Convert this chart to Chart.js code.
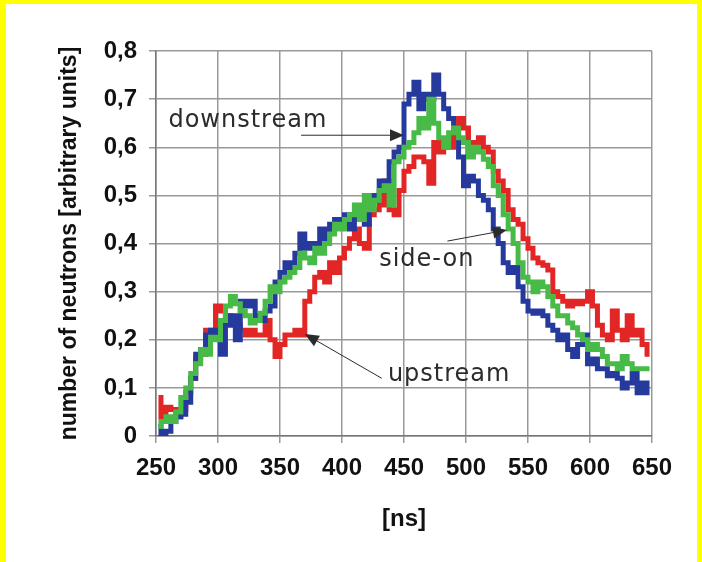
<!DOCTYPE html>
<html>
<head>
<meta charset="utf-8">
<script src="https://cdn.jsdelivr.net/npm/chart.js@4.4.1/dist/chart.umd.min.js"></script>
<style>
  html, body { margin: 0; padding: 0; }
  body { width: 702px; height: 562px; background: #ffff00; position: relative; overflow: hidden; }
  #sheet { position: absolute; left: 6px; top: 4px; right: 5px; bottom: 0; background: #fff; }
  #chart { position: absolute; left: 0; top: 0; }
</style>
</head>
<body>
<div id="sheet"></div>
<canvas id="chart" width="702" height="562"></canvas>
<script>
// time axis [ns], one sample every 4 ns
const times = [
  252, 256, 260, 264, 268, 272, 276, 280, 284, 288, 292, 296, 300, 304, 308, 312, 316, 320, 324, 328,
  332, 336, 340, 344, 348, 352, 356, 360, 364, 368, 372, 376, 380, 384, 388, 392, 396, 400, 404, 408,
  412, 416, 420, 424, 428, 432, 436, 440, 444, 448, 452, 456, 460, 464, 468, 472, 476, 480, 484, 488,
  492, 496, 500, 504, 508, 512, 516, 520, 524, 528, 532, 536, 540, 544, 548, 552, 556, 560, 564, 568,
  572, 576, 580, 584, 588, 592, 596, 600, 604, 608, 612, 616, 620, 624, 628, 632, 636, 640, 644, 648
];

const downstream = [
  0.02, 0.005, 0.01, 0.03, 0.04, 0.045, 0.07, 0.12, 0.17, 0.18, 0.21, 0.22, 0.21, 0.17, 0.23, 0.25, 0.20, 0.28, 0.27, 0.28,
  0.25, 0.24, 0.26, 0.27, 0.32, 0.34, 0.36, 0.35, 0.38, 0.42, 0.39, 0.40, 0.39, 0.43, 0.41, 0.44, 0.45, 0.44, 0.46, 0.43,
  0.45, 0.46, 0.44, 0.50, 0.49, 0.53, 0.52, 0.57, 0.59, 0.60, 0.69, 0.71, 0.735, 0.68, 0.71, 0.70, 0.75, 0.71, 0.68, 0.66,
  0.64, 0.58, 0.52, 0.54, 0.53, 0.50, 0.49, 0.47, 0.43, 0.40, 0.36, 0.34, 0.35, 0.31, 0.28, 0.26, 0.255, 0.26, 0.25, 0.23,
  0.22, 0.20, 0.21, 0.18, 0.165, 0.19, 0.21, 0.15, 0.16, 0.14, 0.14, 0.125, 0.13, 0.12, 0.10, 0.11, 0.13, 0.09, 0.11, 0.09
];

const sideOn = [
  0.02, 0.03, 0.04, 0.03, 0.05, 0.08, 0.10, 0.13, 0.15, 0.18, 0.17, 0.205, 0.20, 0.24, 0.27, 0.29, 0.275, 0.26, 0.25, 0.235,
  0.24, 0.255, 0.28, 0.31, 0.30, 0.32, 0.33, 0.34, 0.35, 0.38, 0.37, 0.36, 0.39, 0.38, 0.40, 0.42, 0.44, 0.43, 0.45, 0.46,
  0.48, 0.45, 0.50, 0.47, 0.49, 0.51, 0.52, 0.48, 0.57, 0.58, 0.60, 0.61, 0.63, 0.66, 0.64, 0.70, 0.65, 0.62, 0.60, 0.63,
  0.64, 0.62, 0.61, 0.58, 0.60, 0.59, 0.575, 0.56, 0.52, 0.50, 0.46, 0.43, 0.40, 0.36, 0.33, 0.32, 0.30, 0.32, 0.31, 0.29,
  0.27, 0.25, 0.25, 0.235, 0.225, 0.21, 0.20, 0.18, 0.19, 0.18, 0.165, 0.15, 0.15, 0.14, 0.165, 0.15, 0.14, 0.14, 0.14, 0.14
];

const upstream = [
  0.08, 0.04, 0.06, 0.055, 0.04, 0.055, 0.09, 0.12, 0.16, 0.17, 0.22, 0.21, 0.27, 0.26, 0.25, 0.24, 0.23, 0.22, 0.21, 0.22,
  0.21, 0.21, 0.24, 0.20, 0.165, 0.19, 0.21, 0.21, 0.22, 0.21, 0.28, 0.30, 0.33, 0.34, 0.32, 0.36, 0.34, 0.37, 0.39, 0.41,
  0.43, 0.40, 0.39, 0.46, 0.47, 0.48, 0.53, 0.47, 0.46, 0.51, 0.55, 0.56, 0.58, 0.58, 0.57, 0.525, 0.61, 0.59, 0.61, 0.60,
  0.63, 0.66, 0.64, 0.59, 0.61, 0.62, 0.60, 0.59, 0.55, 0.53, 0.51, 0.47, 0.45, 0.44, 0.41, 0.39, 0.37, 0.36, 0.355, 0.345,
  0.30, 0.29, 0.28, 0.27, 0.28, 0.275, 0.28, 0.30, 0.27, 0.23, 0.21, 0.20, 0.26, 0.22, 0.20, 0.25, 0.21, 0.22, 0.19, 0.17
];

const xTicks = [250, 300, 350, 400, 450, 500, 550, 600, 650];
const yTickLabels = ['0', '0,1', '0,2', '0,3', '0,4', '0,5', '0,6', '0,7', '0,8'];

// text labels with arrows, placed in data units (ns, value)
const callouts = [
  { text: 'downstream', at: [260, 0.655], from: [367, 0.625], to: [450, 0.625] },
  { text: 'side-on',    at: [430, 0.366], from: [485, 0.405], to: [533, 0.428] },
  { text: 'upstream',   at: [437, 0.127], from: [432, 0.12],  to: [370, 0.212] }
];

const toPoints = (vals) => vals.map((v, i) => ({ x: times[i], y: v }));

const calloutPlugin = {
  id: 'callouts',
  afterDatasetsDraw(chart) {
    const { ctx, scales: { x, y } } = chart;
    ctx.save();
    ctx.fillStyle = '#2b2b2b';
    ctx.strokeStyle = '#2b2b2b';
    ctx.font = '24px "DejaVu Sans"';
    ctx.letterSpacing = '1px';
    ctx.textBaseline = 'middle';
    ctx.textAlign = 'left';
    callouts.forEach(c => {
      ctx.fillText(c.text, x.getPixelForValue(c.at[0]), y.getPixelForValue(c.at[1]));
      const x0 = x.getPixelForValue(c.from[0]), y0 = y.getPixelForValue(c.from[1]);
      const x1 = x.getPixelForValue(c.to[0]), y1 = y.getPixelForValue(c.to[1]);
      const ang = Math.atan2(y1 - y0, x1 - x0);
      ctx.lineWidth = 1;
      ctx.beginPath();
      ctx.moveTo(x0, y0);
      ctx.lineTo(x1 - 10 * Math.cos(ang), y1 - 10 * Math.sin(ang));
      ctx.stroke();
      ctx.beginPath();
      ctx.moveTo(x1, y1);
      ctx.lineTo(x1 - 14 * Math.cos(ang) + 6 * Math.sin(ang), y1 - 14 * Math.sin(ang) - 6 * Math.cos(ang));
      ctx.lineTo(x1 - 14 * Math.cos(ang) - 6 * Math.sin(ang), y1 - 14 * Math.sin(ang) + 6 * Math.cos(ang));
      ctx.closePath();
      ctx.fill();
    });
    ctx.restore();
  }
};

const axisFont = { family: '"Liberation Sans", Arial, sans-serif', size: 24, weight: 'bold' };

new Chart(document.getElementById('chart'), {
  type: 'line',
  data: {
    datasets: [
      { label: 'side-on', data: toPoints(sideOn), borderColor: 'rgb(72, 186, 72)' },
      { label: 'downstream', data: toPoints(downstream), borderColor: 'rgb(38, 58, 158)' },
      { label: 'upstream', data: toPoints(upstream), borderColor: 'rgb(226, 38, 38)' }
    ]
  },
  options: {
    responsive: false,
    animation: false,
    devicePixelRatio: 1,
    layout: { padding: { top: 51, right: 50, left: 56, bottom: 28 } },
    elements: {
      line: { borderWidth: 5, stepped: 'middle', tension: 0 },
      point: { radius: 0 }
    },
    plugins: {
      legend: { display: false },
      tooltip: { enabled: false }
    },
    scales: {
      x: {
        type: 'linear',
        min: 250,
        max: 650,
        afterBuildTicks: (scale) => { scale.ticks = xTicks.map(v => ({ value: v })); },
        afterFit: (scale) => { scale.height = 98; },
        ticks: { font: axisFont, color: '#111', padding: 11, maxRotation: 0 },
        grid: { color: '#999', lineWidth: 1.5, tickLength: 7 },
        border: { color: '#777', width: 1.5 },
        title: { display: true, text: '[ns]', font: axisFont, color: '#111', padding: 0 }
      },
      y: {
        min: 0,
        max: 0.8,
        ticks: {
          stepSize: 0.1,
          font: axisFont,
          color: '#111',
          padding: 12,
          callback: (v, i) => yTickLabels[i]
        },
        afterFit: (scale) => { scale.width = 100; },
        grid: { color: '#999', lineWidth: 1.5, tickLength: 7 },
        border: { color: '#777', width: 1.5 },
        title: {
          display: true,
          text: 'number of neutrons [arbitrary units]',
          font: { family: '"Liberation Sans", Arial, sans-serif', size: 23, weight: 'bold' },
          color: '#111',
          padding: 0
        }
      }
    }
  },
  plugins: [calloutPlugin]
});
</script>
</body>
</html>
